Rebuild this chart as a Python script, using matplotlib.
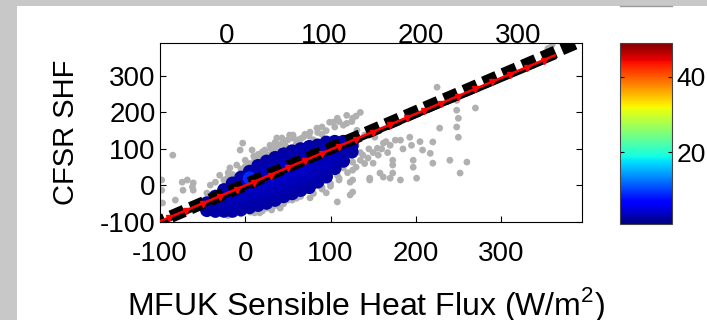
# -*- coding: utf-8 -*-
# CFSR vs MFUK sensible heat flux scatter (density coloured) - matplotlib recreation

import numpy as np
import matplotlib
matplotlib.use("Agg")
import matplotlib.pyplot as plt
from matplotlib.patches import Rectangle
from matplotlib.lines import Line2D

plt.rcParams["font.family"] = ["Liberation Sans", "DejaVu Sans"]
plt.rcParams["axes.unicode_minus"] = False

# ── data (W/m2) ─────────────────────────────────────────
# sparse points (grey)
gray_x = [-85, -98, -98, -74, -68, -61, -73, -61, -62, -82, -97, -45, -41, -35, -21, -30,
          -3, -10, 0, 6, 11, 17, 23, 29, 29, 35, 43, 47, 56, 37, 52, 68, 76, 84, 99,
          108, 119, 135, 126, 119, 103, -6, 8, -18, 20, 40, 60, 80, 90, 60, 45, 15, 70,
          -10, 6, 11, 17, 31, 41, 50, 49, 68, 76, 88, 108, 108, 115, 123, 123, 126, 126,
          126, 126, 138, 146, 146, 150, 155, 158, 162, 162, 170, 170, 173, 173, 173, 182,
          182, 193, 197, 197, 201, 208, 217, 220, 220, 240, 252, 260, 25, 35, 60, 90,
          100, 110, 95, 185, 195, 205,
          225, 248, 248, 250, 248, 250, 270, 228, 360, 355,
          131, 140, 152, 176, 135, 144, 156, 167,
          -25, -15, -5, 5, 15, 25, -20, 0, 10, 20, 30, 40, 50, 35, 55, 65, 75, 85, 95,
          105, 115, 125, 130, 110, 90,
          -35, -20, -5, 20, 30, 45, 55, 65, 80, 90, 100, 110, 120, 130, 140, 135, 145,
          150, 160, 165, 130]
gray_y = [83, -13, 15, 9, 15, 7, -13, -13, -4, -40, -48, -21, 1, 9, 20, 28,
          116, 56, 69, 56, 69, 83, 97, 110, 83, 102, 130, 110, 138, 130, 138, 132, 146,
          157, 173, 184, 192, 200, 184, 170, 173, 97, 97, 48, 75, 95, 115, 125, 140,
          125, 120, 85, 140,
          -67, -73, -75, -75, -67, -62, -40, -34, -18, -34, 1, 28, -45, 48, 9, -26, 64,
          42, 15, -18, 83, 20, 15, 61, 102, 34, 23, 116, 110, 20, 56, 69, 34, 124, 15,
          132, 69, 50, 20, 97, 88, 119, 61, 69, 34, 64, -62, -55, -35, -10, 5, 15, -20,
          100, 110, 120,
          269, 233, 206, 184, 160, 132, 212, 157, 385, 375,
          151, 138, 132, 124, 69, 75, 83, 90,
          15, 30, 45, 60, 70, 85, 35, 52, 80, 92, 100, 112, 125, 118, 130, 128, 135,
          145, 150, 160, 165, 175, 190, 175, 160,
          -80, -82, -78, -70, -60, -50, -40, -30, -22, -5, -2, 20, 35, 50, 60, 90, 100,
          90, 100, 120, 110]

# dense core (coloured by point density)
blue_x = [-45, -45,
          -35, -35, -35,
          -25, -25, -25, -25,
          -15, -15, -15, -15, -15,
          -5, -5, -5, -5, -5, -5,
          5, 5, 5, 5, 5, 5,
          15, 15, 15, 15, 15, 15, 15,
          25, 25, 25, 25, 25, 25, 25,
          35, 35, 35, 35, 35, 35, 35,
          45, 45, 45, 45, 45, 45, 45,
          55, 55, 55, 55, 55, 55, 55,
          65, 65, 65, 65, 65, 65, 65,
          75, 75, 75, 75, 75, 75, 75,
          85, 85, 85, 85, 85, 85,
          95, 95, 95, 95, 95, 95,
          105, 105, 105, 105, 105,
          115, 115, 115, 115,
          125, 125, 125]
blue_y = [-68, -48,
          -70, -50, -30,
          -70, -50, -30, -12,
          -70, -50, -30, -10, 6,
          -66, -46, -26, -6, 14, 22,
          -60, -40, -20, 0, 20, 38,
          -54, -34, -14, 6, 26, 46, 54,
          -48, -28, -8, 12, 32, 52, 66,
          -40, -20, 0, 20, 40, 60, 76,
          -30, -10, 10, 30, 50, 70, 86,
          -22, -2, 18, 38, 58, 78, 94,
          -13, 7, 27, 47, 67, 87, 100,
          -5, 15, 35, 55, 75, 95, 106,
          10, 30, 50, 70, 90, 110,
          24, 44, 64, 84, 104, 118,
          47, 67, 87, 107, 120,
          67, 87, 107, 120,
          92, 108, 118]
blue_c = [2.5, 2.5,
          2.5, 2.5, 2.5,
          2.5, 3, 3, 2.5,
          2.5, 3, 3.5, 3, 2.5,
          2.5, 3, 3.5, 3.5, 3, 2.5,
          2.5, 3, 3.5, 4, 9, 2.5,
          2.5, 3, 3.5, 4, 3.5, 3, 2.5,
          2.5, 3, 3.5, 4, 3.5, 3, 2.5,
          2.5, 3, 3.5, 4, 3.5, 3, 2.5,
          2.5, 3, 3.5, 4, 3.5, 3, 2.5,
          2.5, 3, 3.5, 4, 3.5, 3, 2.5,
          2.5, 3, 3.5, 4, 3.5, 3, 2.5,
          2.5, 3, 3.5, 3.5, 3.5, 3, 2.5,
          2.5, 3, 3.5, 3.5, 3, 2.5,
          2.5, 3, 3.5, 3.5, 3, 2.5,
          2.5, 3, 3.5, 3, 2.5,
          2.5, 3, 3, 2.5,
          2.5, 2.5, 2.5]

# reference lines
one_x = [-110, 410]
one_y = [-108, 412]
fit_x = [-100, 363]
fit_y = [-98, 356]
low_x = [-100, 363]
low_y = [-105, 349]
mark_x = [-90, -70, -50, -30, -10, 10, 30, 50, 70, 90, 110, 130, 150, 170, 190,
          210, 230, 250, 270, 290, 310, 330, 350]
mark_y = [-90, -71, -51, -31, -12, 8, 27, 47, 67, 86, 106, 125, 145, 165, 184,
          204, 223, 243, 263, 282, 302, 321, 341]

x_ticks = [-100, 0, 100, 200, 300]
y_ticks = [-100, 0, 100, 200, 300]
top_ticks = [0, 100, 200, 300]
cbar_ticks = [20, 40]

# ── figure ──────────────────────────────────────────────
W, H = 707, 320
fig = plt.figure(figsize=(W / 100, H / 100), dpi=100, facecolor="#c8c8c8")
fig.add_artist(Rectangle((17 / W, 0), 1, 314 / H, transform=fig.transFigure,
                         facecolor="white", edgecolor="none", zorder=-10))
fig.add_artist(Line2D([620 / W, 672 / W], [314 / H, 314 / H], color="#9a9a9a", lw=1.0))

ax = fig.add_axes([160 / W, 1 - 222 / H, 422 / W, 179 / H])

ax.scatter(gray_x, gray_y, s=24, c="#b0b0b0", marker="o", edgecolors="none", zorder=1)

order = np.argsort(blue_c)
sc = ax.scatter(np.array(blue_x)[order], np.array(blue_y)[order],
                c=np.array(blue_c)[order], cmap="jet", vmin=1, vmax=49,
                s=95, edgecolors="none", zorder=2)

ax.plot(one_x, one_y, color="black", lw=9, dashes=(1.15, 0.55),
        solid_capstyle="butt", dash_capstyle="butt", zorder=3)
ax.plot(low_x, low_y, color="black", lw=2.5, zorder=3)
ax.plot(fit_x, fit_y, color="red", lw=1.8, zorder=4)
ax.plot(mark_x, mark_y, ls="none", marker="v", ms=4, color="red", zorder=5)

ax.set_xlim(-100, 395)
ax.set_ylim(-100, 390)
ax.set_xticks(x_ticks)
ax.set_yticks(y_ticks)
ax.tick_params(direction="in", length=4, width=0.8, top=True, right=True,
               labelsize=20, pad=3)
ax.tick_params(axis="x", pad=14)
for sp in ax.spines.values():
    sp.set_linewidth(0.8)

# top labels (offset scale as in the original)
ax_top = ax.twiny()
ax_top.set_xlim(-69, 366)
ax_top.set_xticks(top_ticks)
ax_top.tick_params(length=0, labelsize=20, pad=-4)
for sp in ax_top.spines.values():
    sp.set_visible(False)

ax.set_ylabel("CFSR SHF", fontsize=21)
ax.yaxis.set_label_coords(-0.19, 0.5)
ax.set_xlabel("MFUK Sensible Heat Flux (W/m$^\\mathregular{2}$)", fontsize=23)
ax.xaxis.set_label_coords(0.488, -0.35)

# colorbar
cax = fig.add_axes([620 / W, 1 - 224 / H, 52 / W, 181 / H])
cb = fig.colorbar(sc, cax=cax, ticks=cbar_ticks)
cb.ax.tick_params(direction="in", length=3, left=True, right=True, labelsize=19, pad=3)
cb.outline.set_linewidth(0.8)
cb.outline.set_edgecolor("#444444")

fig.savefig("out.png", dpi=100, facecolor=fig.get_facecolor())
plt.close(fig)
